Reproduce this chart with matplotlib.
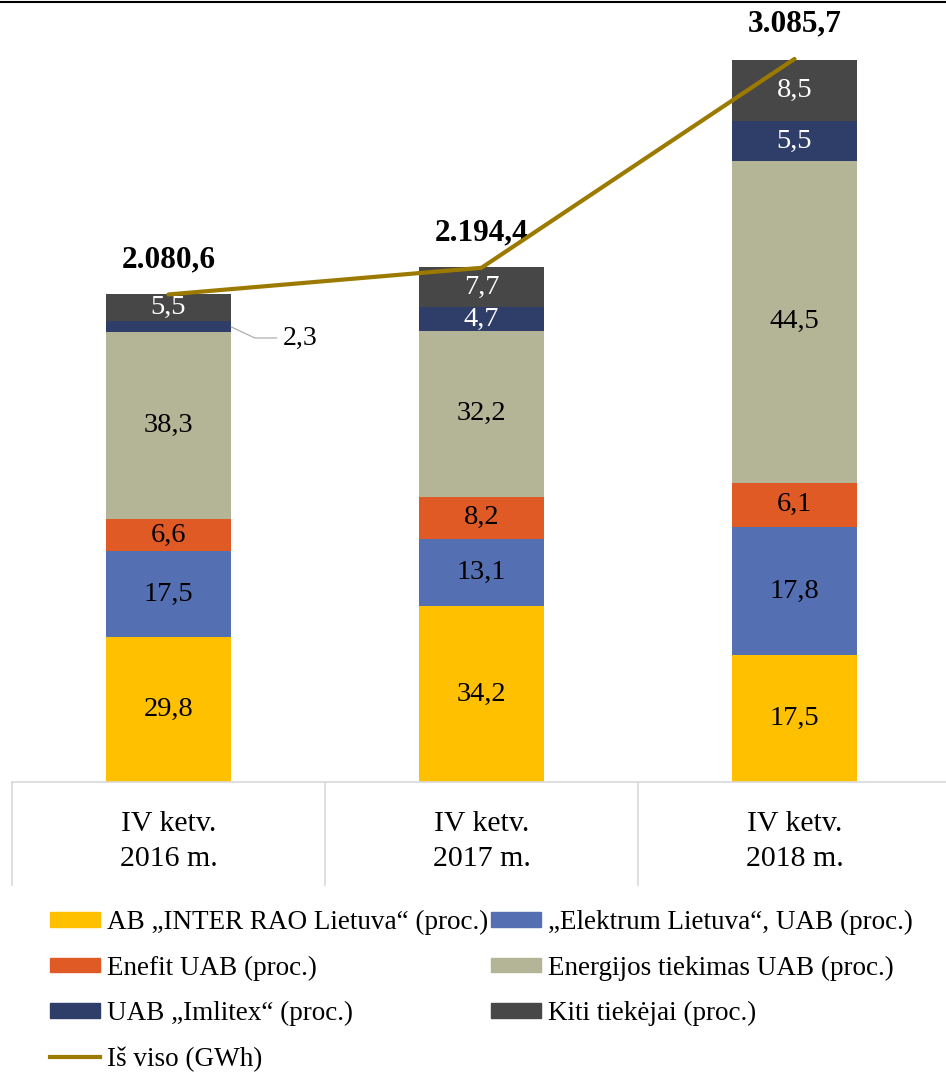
import matplotlib
matplotlib.use('Agg')
import matplotlib.pyplot as plt
from matplotlib.lines import Line2D
from matplotlib.patches import Patch

plt.rcParams['font.family'] = ['Liberation Serif', 'DejaVu Serif']

# duomenys
quarter = 'IV ketv.'
years = ['2016 m.', '2017 m.', '2018 m.']
totals = [2080.6, 2194.4, 3085.7]
total_labels = ['2.080,6', '2.194,4', '3.085,7']

inter_rao = [29.8, 34.2, 17.5]
elektrum = [17.5, 13.1, 17.8]
enefit = [6.6, 8.2, 6.1]
energijos = [38.3, 32.2, 44.5]
imlitex = [2.3, 4.7, 5.5]
kiti = [5.5, 7.7, 8.5]

series = [
    ('AB „INTER RAO Lietuva“ (proc.)', inter_rao, '#FFC000', 'black'),
    ('„Elektrum Lietuva“, UAB (proc.)', elektrum, '#5470B3', 'black'),
    ('Enefit UAB (proc.)', enefit, '#E05A25', 'black'),
    ('Energijos tiekimas UAB (proc.)', energijos, '#B4B496', 'black'),
    ('UAB „Imlitex“ (proc.)', imlitex, '#2F3E69', 'white'),
    ('Kiti tiekėjai (proc.)', kiti, '#474747', 'white'),
]
line_color = '#9C7A00'


def fmt(v):
    return f'{v:.1f}'.replace('.', ',')


W, H = 946, 1072
fig = plt.figure(figsize=(W / 100, H / 100), dpi=100)
ax = fig.add_axes([12 / W, (H - 782) / H, 939 / W, 774 / H])

x = list(range(len(years)))
bottoms = [0.0] * len(years)
handles = {}
for name, vals, color, tcolor in series:
    heights = [v / 100 * t for v, t in zip(vals, totals)]
    ax.bar(x, heights, width=0.4, bottom=bottoms, color=color, zorder=2)
    handles[name] = Patch(color=color)
    for i, (h, b, v) in enumerate(zip(heights, bottoms, vals)):
        mid = b + h / 2
        if name.startswith('UAB „Imlitex') and i == 0:
            # mažas segmentas - etiketė šone
            ax.annotate(fmt(v), xy=(0.2, mid), xytext=(37, -8),
                        textcoords='offset points', fontsize=20,
                        va='center', ha='left',
                        arrowprops=dict(arrowstyle='-', color='#A6A6A6', lw=0.8,
                                        connectionstyle='angle,angleA=0,angleB=-25,rad=0',
                                        shrinkA=2, shrinkB=0))
        else:
            ax.text(i, mid, fmt(v), ha='center', va='center', fontsize=20.5,
                    color=tcolor, zorder=3)
    bottoms = [b + h for b, h in zip(bottoms, heights)]

ax.plot(x, totals, color=line_color, lw=3, zorder=5, solid_capstyle='round')
handles['Iš viso (GWh)'] = Line2D([], [], color=line_color, lw=3)
for i, (t, lab) in enumerate(zip(totals, total_labels)):
    ax.annotate(lab, xy=(i, t), xytext=(0, 25), textcoords='offset points',
                ha='center', va='center', fontsize=22.5, fontweight='bold')

ax.set_xlim(-0.5, 2.5)
ax.set_ylim(0, 3303)
ax.set_xticks([])
ax.set_yticks([])
for s in ['top', 'right', 'left']:
    ax.spines[s].set_visible(False)
ax.spines['bottom'].set_color('#D9D9D9')
ax.spines['bottom'].set_linewidth(1.2)

# tabelės linijos ir kategorijų pavadinimai
xt = ax.get_xaxis_transform()
for xv in [-0.5, 0.5, 1.5]:
    ax.plot([xv, xv], [0, -103 / 774], color='#D9D9D9', lw=1.2,
            transform=xt, clip_on=False)
for i, yr in enumerate(years):
    ax.text(i, -42 / 774, quarter, ha='center', va='center', fontsize=21.5, transform=xt)
    ax.text(i, -77 / 774, yr, ha='center', va='center', fontsize=21.5, transform=xt)

# viršutinė linija
fig.add_artist(Line2D([0, 1], [1 - 2 / H, 1 - 2 / H], transform=fig.transFigure,
                      color='black', lw=1.5))

order = ['AB „INTER RAO Lietuva“ (proc.)', 'Enefit UAB (proc.)',
         'UAB „Imlitex“ (proc.)', 'Iš viso (GWh)',
         '„Elektrum Lietuva“, UAB (proc.)', 'Energijos tiekimas UAB (proc.)',
         'Kiti tiekėjai (proc.)']
fig.legend([handles[k] for k in order], order, ncol=2, loc='upper left',
           bbox_to_anchor=(50 / W, 1 - 910 / H), frameon=False, fontsize=19.5,
           handlelength=1.85, handleheight=0.45, handletextpad=0.25,
           columnspacing=0.12, labelspacing=0.75, borderpad=0, borderaxespad=0)

fig.savefig('out.png', dpi=100)
